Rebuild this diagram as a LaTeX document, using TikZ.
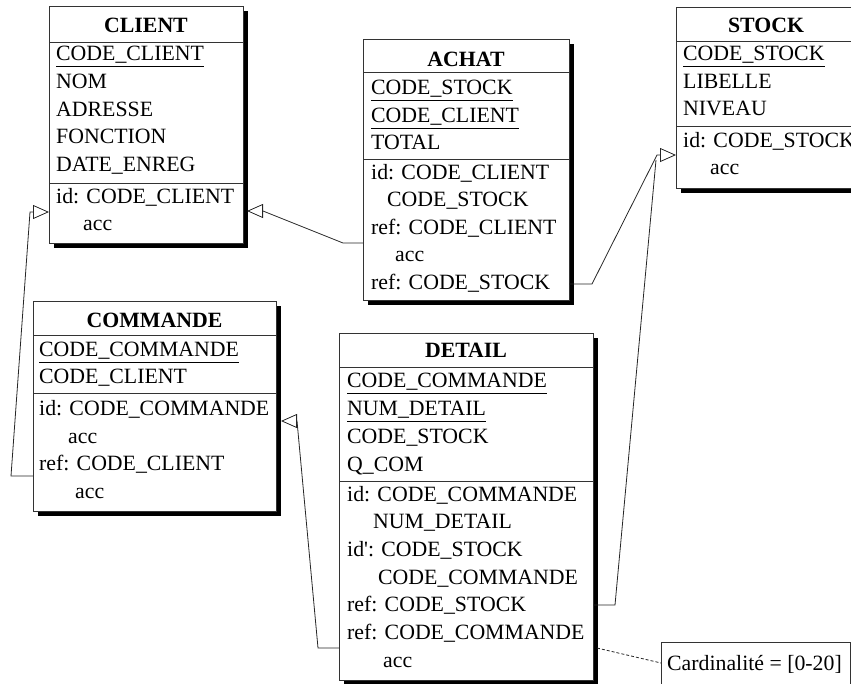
\documentclass[tikz,border=0pt]{standalone}
\usepackage{fontspec}
\setmainfont{Liberation Serif}
\usetikzlibrary{arrows.meta}
\newcommand\keyattr[1]{\setbox0=\hbox{#1}\rlap{\rule[-7.2pt]{\wd0}{1.6pt}}\box0}
\tikzset{
  boxline/.style={draw=black!80, line width=0.9pt},
  erbox/.style={boxline, fill=white, anchor=north west, inner sep=0pt},
  shadowbox/.style={fill=black},
  txt/.style={font=\fontsize{21.8}{26}\selectfont, inner sep=0pt, anchor=base west},
  ttl/.style={font=\fontsize{21.8}{26}\selectfont\bfseries, inner sep=0pt, anchor=base},
  conn/.style={draw=black!85, line width=0.8pt},
  reftip/.style={conn, -{Triangle[open,length=16pt,width=14pt]}},
}
\begin{document}
\begin{tikzpicture}[x=1pt,y=-1pt]
\useasboundingbox (0,0) rectangle (851,683);
\clip (0,0) rectangle (851,683);
% ---------- shadows
\fill[shadowbox] (53.5,10.5) rectangle (247.5,247.5);
\fill[shadowbox] (367.5,43.5) rectangle (573.5,304.5);
\fill[shadowbox] (680.5,11.5) rectangle (860.5,192.5);
\fill[shadowbox] (37.5,305.5) rectangle (280.5,515.5);
\fill[shadowbox] (343.5,337.5) rectangle (597.5,684.5);
% ---------- boxes
\node[erbox, minimum width=194pt, minimum height=237pt] (client) at (49,6) {};
\node[erbox, minimum width=206pt, minimum height=261pt] (achat) at (363,39) {};
\node[erbox, minimum width=180pt, minimum height=181pt] (stock) at (676,7) {};
\node[erbox, minimum width=243pt, minimum height=210pt] (commande) at (33,301) {};
\node[erbox, minimum width=254pt, minimum height=347pt] (detail) at (339,333) {};
\node[erbox, minimum width=189pt, minimum height=60pt] (note) at (661,642) {};
% ---------- separators
\draw[boxline] (49,42) -- (243,42);   \draw[boxline] (49,183) -- (243,183);
\draw[boxline] (363,72) -- (569,72);  \draw[boxline] (363,159) -- (569,159);
\draw[boxline] (676,41) -- (856,41);  \draw[boxline] (676,126) -- (856,126);
\draw[boxline] (33,335) -- (276,335); \draw[boxline] (33,393) -- (276,393);
\draw[boxline] (339,367) -- (593,367); \draw[boxline] (339,481) -- (593,481);
% ---------- CLIENT
\node[ttl] (clt) at (146,32) {CLIENT};
\node[txt] (cl1) at (56,60) {\keyattr{CODE\_CLIENT}};
\node[txt] (cl2) at (56,88) {NOM};
\node[txt] (cl3) at (56,116) {ADRESSE};
\node[txt] (cl4) at (56,143) {FONCTION};
\node[txt] (cl5) at (56,171) {DATE\_ENREG};
\node[txt] (cl6) at (56,203) {id: CODE\_CLIENT};
\node[txt] (cl7) at (83,230) {acc};
% ---------- ACHAT
\node[ttl] (act) at (466,66) {ACHAT};
\node[txt] (ac1) at (371,94) {\keyattr{CODE\_STOCK}};
\node[txt] (ac2) at (371,122) {\keyattr{CODE\_CLIENT}};
\node[txt] (ac3) at (371,149) {TOTAL};
\node[txt] (ac4) at (371,179) {id: CODE\_CLIENT};
\node[txt] (ac5) at (387,206.5) {CODE\_STOCK};
\node[txt] (ac6) at (371,234) {ref: CODE\_CLIENT};
\node[txt] (ac7) at (395,261.5) {acc};
\node[txt] (ac8) at (371,289) {ref: CODE\_STOCK};
% ---------- STOCK
\node[ttl] (stt) at (766,32) {STOCK};
\node[txt] (st1) at (683,60) {\keyattr{CODE\_STOCK}};
\node[txt] (st2) at (683,88) {LIBELLE};
\node[txt] (st3) at (683,115) {NIVEAU};
\node[txt] (st4) at (683,147) {id: CODE\_STOCK};
\node[txt] (st5) at (710,174) {acc};
% ---------- COMMANDE
\node[ttl] (cot) at (154.5,327) {COMMANDE};
\node[txt] (co1) at (39,356) {\keyattr{CODE\_COMMANDE}};
\node[txt] (co2) at (39,383) {CODE\_CLIENT};
\node[txt] (co3) at (39,415) {id: CODE\_COMMANDE};
\node[txt] (co4) at (68,443) {acc};
\node[txt] (co5) at (39,470) {ref: CODE\_CLIENT};
\node[txt] (co6) at (75,498) {acc};
% ---------- DETAIL
\node[ttl] (det) at (466,357) {DETAIL};
\node[txt] (de1) at (347,387) {\keyattr{CODE\_COMMANDE}};
\node[txt] (de2) at (347,415) {\keyattr{NUM\_DETAIL}};
\node[txt] (de3) at (347,443) {CODE\_STOCK};
\node[txt] (de4) at (347,471) {Q\_COM};
\node[txt] (de5) at (347,501) {id: CODE\_COMMANDE};
\node[txt] (de6) at (373,528.7) {NUM\_DETAIL};
\node[txt] (de7) at (347,556.4) {id\textquotesingle: CODE\_STOCK};
\node[txt] (de8) at (378,584.1) {CODE\_COMMANDE};
\node[txt] (de9) at (347,611.8) {ref: CODE\_STOCK};
\node[txt] (de10) at (347,639.5) {ref: CODE\_COMMANDE};
\node[txt] (de11) at (383,667.2) {acc};
% ---------- note
\node[txt] (notetxt) at (667,670) {Cardinalité = [0-20]};
% ---------- connector points
\coordinate (achatL) at (363,243);
\coordinate (achatLk) at (343,243);
\coordinate (clientRb) at (263,211);
\coordinate (clientR) at (247,211);
\coordinate (achatR) at (569,284);
\coordinate (achatRk) at (592,284);
\coordinate (stockLb) at (657,155);
\coordinate (stockL) at (676,155);
\coordinate (detailR) at (593,605);
\coordinate (detailRk) at (615,605);
\coordinate (stockLb2) at (656,160);
\coordinate (commL) at (33,476);
\coordinate (commLk) at (11,476);
\coordinate (clientLb) at (30,212);
\coordinate (clientL) at (49,212);
\coordinate (detailL) at (339,648);
\coordinate (detailLk) at (318,648);
\coordinate (commRb) at (297,421);
\coordinate (commR) at (281,421);
\coordinate (detailN) at (597,648);
\coordinate (noteL) at (661,663);
% ---------- connectors
\draw[reftip] (achatL) -- (achatLk) -- (clientRb) -- (clientR);
\draw[reftip] (achatR) -- (achatRk) -- (stockLb) -- (stockL);
\draw[conn] (detailR) -- (detailRk) -- (stockLb2);
\draw[reftip] (commL) -- (commLk) -- (clientLb) -- (clientL);
\draw[reftip] (detailL) -- (detailLk) -- (commRb) -- (commR);
\draw[conn, dashed, dash pattern=on 3pt off 2pt] (detailN) -- (noteL);
\end{tikzpicture}
\end{document}
